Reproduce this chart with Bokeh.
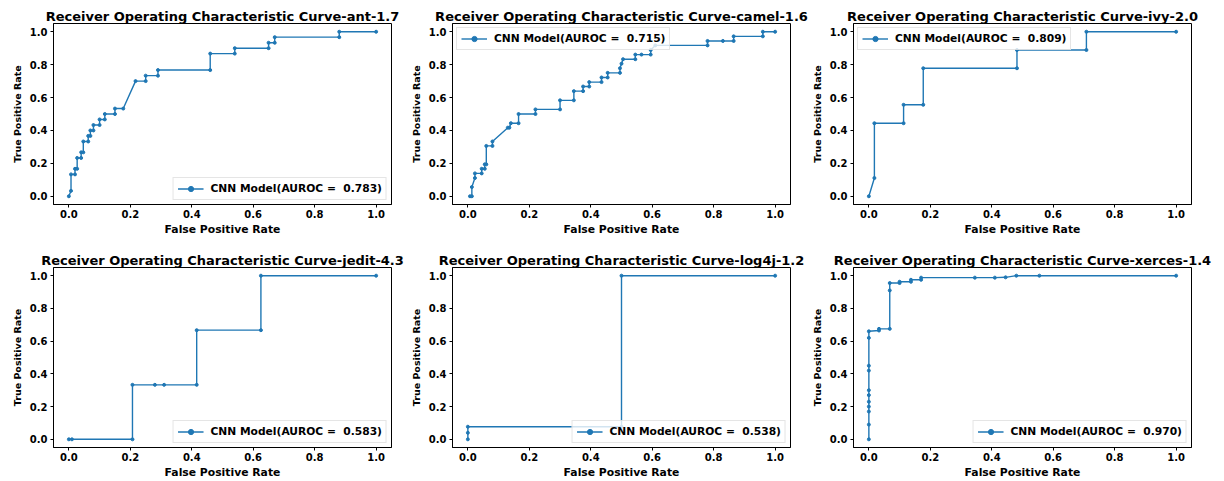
from bokeh.plotting import figure
from bokeh.layouts import column, row
from bokeh.models import FixedTicker, PrintfTickFormatter
from bokeh.embed import file_html
from bokeh.resources import INLINE

projects = ["ant-1.7", "camel-1.6", "ivy-2.0", "jedit-4.3", "log4j-1.2", "xerces-1.4"]
aurocs = ["0.783", "0.715", "0.809", "0.583", "0.538", "0.970"]
legend_corners = ["bottom_right", "top_left", "top_left", "bottom_right", "bottom_right", "bottom_right"]
tick_values = [0.0, 0.2, 0.4, 0.6, 0.8, 1.0]

fpr_ant = [0.0, 0.007, 0.007, 0.02, 0.02, 0.027, 0.027, 0.04, 0.04, 0.047, 0.047, 0.063, 0.063, 0.07, 0.07,
           0.08, 0.08, 0.1, 0.1, 0.117, 0.117, 0.15, 0.15, 0.177, 0.217, 0.25, 0.25, 0.29, 0.29, 0.46, 0.46,
           0.54, 0.54, 0.65, 0.65, 0.67, 0.67, 0.88, 0.88, 1.0]
tpr_ant = [0.0, 0.033, 0.133, 0.133, 0.167, 0.167, 0.233, 0.233, 0.267, 0.267, 0.333, 0.333, 0.367, 0.367,
           0.4, 0.4, 0.433, 0.433, 0.467, 0.467, 0.5, 0.5, 0.533, 0.533, 0.7, 0.7, 0.733, 0.733, 0.767, 0.767,
           0.867, 0.867, 0.9, 0.9, 0.933, 0.933, 0.967, 0.967, 1.0, 1.0]

fpr_camel = [0.007, 0.013, 0.013, 0.023, 0.023, 0.045, 0.045, 0.055, 0.055, 0.06, 0.06, 0.08, 0.08, 0.13,
             0.135, 0.14, 0.165, 0.165, 0.22, 0.22, 0.3, 0.3, 0.345, 0.345, 0.375, 0.375, 0.395, 0.395, 0.435,
             0.435, 0.455, 0.455, 0.495, 0.495, 0.5, 0.505, 0.545, 0.545, 0.565, 0.595, 0.595, 0.61, 0.78,
             0.78, 0.83, 0.865, 0.865, 0.96, 0.96, 1.0]
tpr_camel = [0.0, 0.0, 0.056, 0.111, 0.139, 0.139, 0.167, 0.167, 0.194, 0.194, 0.306, 0.306, 0.333, 0.417,
             0.417, 0.444, 0.444, 0.5, 0.5, 0.528, 0.528, 0.583, 0.583, 0.639, 0.639, 0.667, 0.667, 0.694,
             0.694, 0.722, 0.722, 0.75, 0.75, 0.778, 0.806, 0.833, 0.833, 0.861, 0.861, 0.861, 0.889, 0.917,
             0.917, 0.944, 0.944, 0.944, 0.972, 0.972, 1.0, 1.0]

fpr_ivy = [0.0, 0.018, 0.018, 0.113, 0.113, 0.177, 0.177, 0.482, 0.482, 0.708, 0.708, 1.0]
tpr_ivy = [0.0, 0.111, 0.444, 0.444, 0.556, 0.556, 0.778, 0.778, 0.889, 0.889, 1.0, 1.0]

fpr_jedit = [0.0, 0.01, 0.207, 0.207, 0.28, 0.31, 0.416, 0.416, 0.625, 0.625, 1.0]
tpr_jedit = [0.0, 0.0, 0.0, 0.333, 0.333, 0.333, 0.333, 0.667, 0.667, 1.0, 1.0]

fpr_log4j = [0.0, 0.0, 0.0, 0.5, 0.5, 1.0]
tpr_log4j = [0.0, 0.04, 0.077, 0.077, 1.0, 1.0]

fpr_xerces = [0.0, 0.0, 0.0, 0.0, 0.0, 0.0, 0.0, 0.0, 0.0, 0.0, 0.0, 0.033, 0.033, 0.068, 0.068, 0.068,
              0.1, 0.1, 0.137, 0.137, 0.17, 0.17, 0.345, 0.41, 0.445, 0.48, 0.555, 1.0]
tpr_xerces = [0.0, 0.09, 0.17, 0.2, 0.23, 0.27, 0.3, 0.42, 0.45, 0.62, 0.66, 0.665, 0.675, 0.675, 0.91,
              0.955, 0.955, 0.963, 0.963, 0.975, 0.975, 0.988, 0.988, 0.988, 0.99, 1.0, 1.0, 1.0]

fprs = [fpr_ant, fpr_camel, fpr_ivy, fpr_jedit, fpr_log4j, fpr_xerces]
tprs = [tpr_ant, tpr_camel, tpr_ivy, tpr_jedit, tpr_log4j, tpr_xerces]

FONT = "DejaVu Sans"
BLUE = "#1f77b4"

# per-column figure geometry: (width, left border, right border)
COLS = [(407, 53, 16), (401, 45, 18), (416, 45, 33)]


def make_panel(i, height, bottom_border):
    w, bl, br = COLS[i % 3]
    p = figure(width=w, height=height, output_backend="svg", toolbar_location=None,
               x_range=(-0.05, 1.05), y_range=(-0.05, 1.05),
               min_border_left=bl, min_border_right=br, min_border_top=23,
               min_border_bottom=bottom_border,
               title="Receiver Operating Characteristic Curve-" + projects[i])
    p.title.text_font = FONT
    p.title.text_font_size = "13px"
    p.title.text_font_style = "bold"
    p.title.text_color = "black"
    p.title.align = "center"
    p.title.standoff = 0
    p.title.offset = 0
    label = "CNN Model(AUROC =  " + aurocs[i] + ")"
    p.line(fprs[i], tprs[i], line_color=BLUE, line_width=1.4, legend_label=label)
    p.scatter(fprs[i], tprs[i], size=3, marker="circle", fill_color=BLUE, line_color=BLUE,
              legend_label=label)
    p.xgrid.visible = False
    p.ygrid.visible = False
    p.outline_line_color = "black"
    p.outline_line_width = 1
    p.outline_line_alpha = 1
    p.background_fill_color = "white"
    p.border_fill_color = "white"
    for ax in (p.xaxis[0], p.yaxis[0]):
        ax.ticker = FixedTicker(ticks=tick_values)
        ax.formatter = PrintfTickFormatter(format="%.1f")
        ax.minor_tick_line_color = None
        ax.major_tick_in = 0
        ax.major_tick_out = 3
        ax.major_tick_line_color = "black"
        ax.axis_line_color = "black"
        ax.major_label_text_font = FONT
        ax.major_label_text_font_size = "10px"
        ax.major_label_text_font_style = "bold"
        ax.major_label_text_color = "black"
        ax.axis_label_text_font = FONT
        ax.axis_label_text_font_style = "bold"
        ax.axis_label_text_color = "black"
    p.xaxis.axis_label = "False Positive Rate"
    p.yaxis.axis_label = "True Positive Rate"
    p.xaxis.axis_label_text_font_size = "10.8px"
    p.yaxis.axis_label_text_font_size = "9.5px"
    p.xaxis.major_label_standoff = 2
    p.xaxis.axis_label_standoff = 2
    p.yaxis.major_label_standoff = 3
    p.yaxis.axis_label_standoff = 4
    lg = p.legend[0]
    lg.location = legend_corners[i]
    lg.label_text_font = FONT
    lg.label_text_font_size = "10.7px"
    lg.label_text_font_style = "bold"
    lg.label_text_color = "black"
    lg.label_height = 13
    lg.glyph_height = 13
    lg.glyph_width = 26
    lg.label_standoff = 7
    lg.padding = 4
    lg.margin = 4
    lg.border_line_color = "#cccccc"
    lg.background_fill_alpha = 0.8
    return p


panels = []
for i in range(6):
    if i < 3:
        panels.append(make_panel(i, 244, 40))
    else:
        panels.append(make_panel(i, 237, 33))

layout = column(row(*panels[:3]), row(*panels[3:]))

html = file_html(layout, INLINE)
open("out.html", "w").write(html)
